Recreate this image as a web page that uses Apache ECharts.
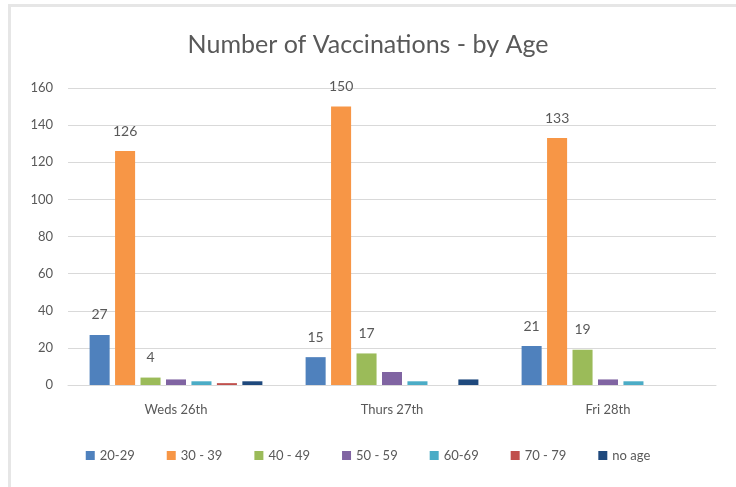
<!DOCTYPE html>
<html>
<head>
<meta charset="utf-8">
<script src="https://cdn.jsdelivr.net/npm/echarts@6/dist/echarts.min.js"></script>
<style>
html,body{margin:0;padding:0;background:#fff;}
#frame{position:absolute;left:8px;top:4px;width:736px;height:487px;border-left:3px solid #e6e6e6;border-top:3px solid #e6e6e6;box-sizing:border-box;}
#chart{position:absolute;left:0;top:0;width:736px;height:487px;}
</style>
</head>
<body>
<div id="frame"></div>
<div id="chart"></div>
<script>
const categories = ['Weds 26th', 'Thurs 27th', 'Fri 28th'];
const seriesNames = ['20-29', '30 - 39', '40 - 49', '50 - 59', '60-69', '70 - 79', 'no age'];
const age20_29 = [27, 15, 21];
const age30_39 = [126, 150, 133];
const age40_49 = [4, 17, 19];
const age50_59 = [3, 7, 3];
const age60_69 = [2, 2, 2];
const age70_79 = [1, 0, 0];
const noAge = [2, 3, 0];
const yTicks = [0, 20, 40, 60, 80, 100, 120, 140, 160];
const colors = ['#4F81BD', '#F79646', '#9BBB59', '#8064A2', '#4BACC6', '#C0504D', '#1F497D'];
const labelled = [true, true, true, false, false, false, false];

const values = [age20_29, age30_39, age40_49, age50_59, age60_69, age70_79, noAge];
const font = 'Lato, "Open Sans", sans-serif';
const chart = echarts.init(document.getElementById('chart'));
chart.setOption({
  animation: false,
  color: colors,
  title: {
    text: 'Number of Vaccinations - by Age',
    left: 'center',
    top: 27,
    textStyle: {color: '#595959', fontSize: 25, fontWeight: 'normal', fontFamily: font}
  },
  legend: {
    data: seriesNames,
    bottom: 20,
    left: 'center',
    itemWidth: 9,
    itemHeight: 9,
    itemGap: 32,
    icon: 'rect',
    textStyle: {color: '#595959', fontSize: 13, fontFamily: font}
  },
  grid: {left: 68, right: 20, top: 88, bottom: 102},
  xAxis: {
    type: 'category',
    data: categories,
    axisTick: {show: false},
    axisLine: {lineStyle: {color: '#d9d9d9', width: 1}},
    axisLabel: {color: '#595959', fontSize: 13, fontFamily: font, margin: 18}
  },
  yAxis: {
    type: 'value',
    min: yTicks[0],
    max: yTicks[yTicks.length - 1],
    interval: 20,
    axisLine: {show: false},
    axisTick: {show: false},
    splitLine: {lineStyle: {color: '#d9d9d9', width: 1}},
    axisLabel: {color: '#595959', fontSize: 13, fontFamily: font, margin: 15}
  },
  series: seriesNames.map((n, i) => ({
    name: n,
    type: 'bar',
    data: values[i],
    barGap: '27%',
    barCategoryGap: '20%',
    label: {
      show: labelled[i],
      position: 'top',
      distance: 13,
      color: '#595959',
      fontSize: 14,
      fontFamily: font
    }
  }))
});
</script>
</body>
</html>
